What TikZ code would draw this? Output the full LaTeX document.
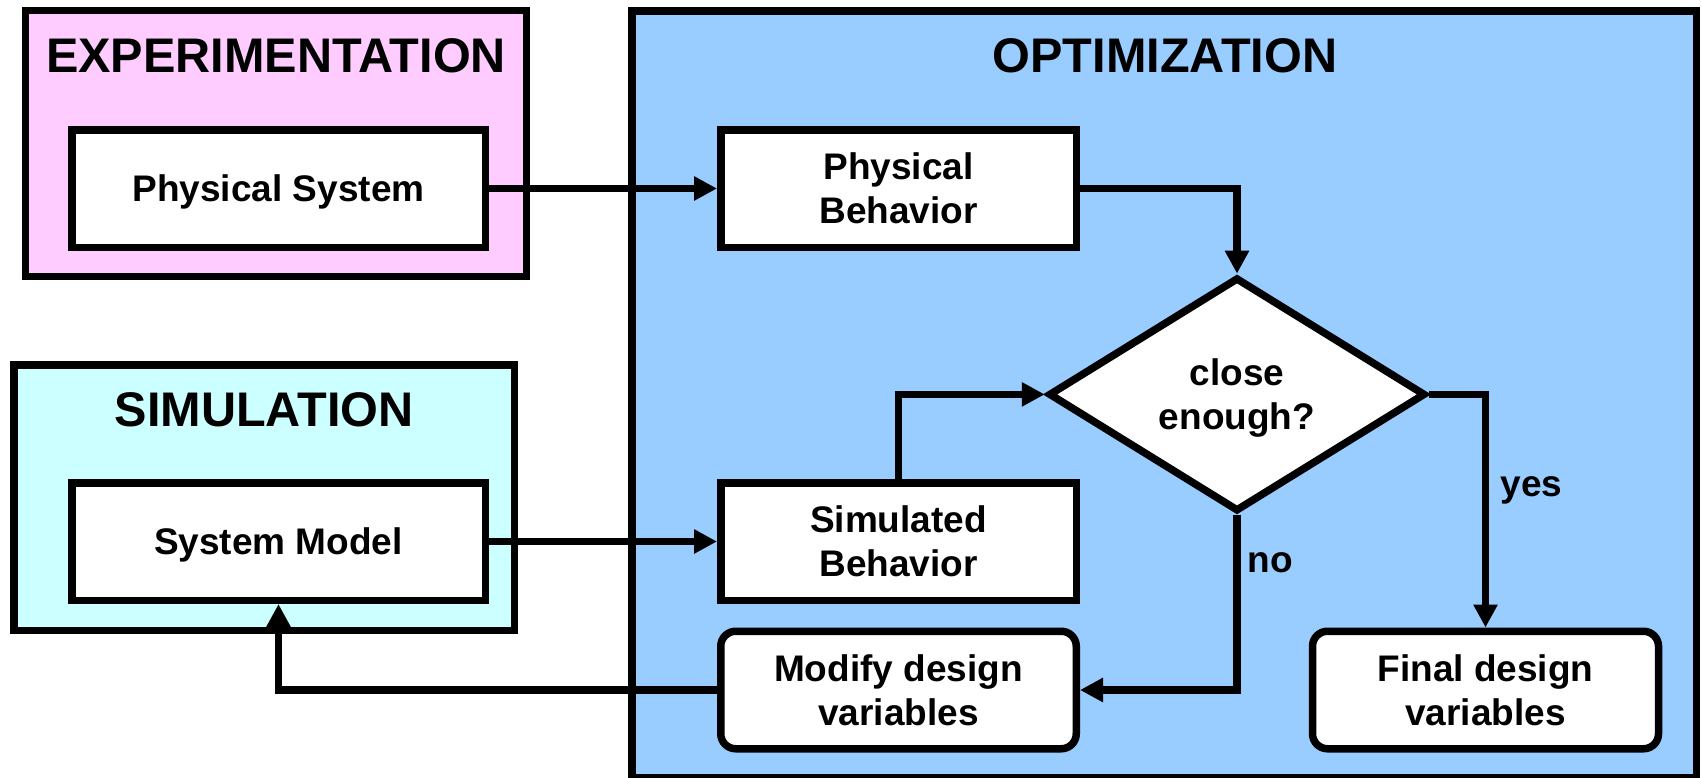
\documentclass[tikz,border=0pt]{standalone}
\usepackage{fontspec}
\setmainfont{Liberation Sans}
\usetikzlibrary{arrows.meta,shapes.geometric}
\definecolor{pinkfill}{RGB}{255,204,255}
\definecolor{cyanfill}{RGB}{204,255,255}
\definecolor{bluefill}{RGB}{153,204,255}
\newcommand\diagtitle{\fontsize{24.3pt}{28pt}\selectfont\bfseries}
\newcommand\diagbody{\fontsize{18.5pt}{22pt}\selectfont\bfseries}
\begin{document}
\begin{tikzpicture}[x=0.5pt,y=-0.5pt,line width=3.75pt,
  groupbox/.style={draw=black,line width=3.75pt,inner sep=0pt,outer sep=0pt},
  stepbox/.style={draw=black,fill=white,line width=3.75pt,inner sep=0pt,
    minimum width=177.75pt,minimum height=58.75pt,align=center,font=\diagbody},
  oneline/.style={text depth=0pt},
  roundbox/.style={stepbox,rounded corners=7.5pt},
  decision/.style={diamond,draw=black,fill=white,line width=3.75pt,inner sep=0pt,
    minimum width=188.5pt,minimum height=117pt,align=center,font=\diagbody,text depth=0pt},
  titletext/.style={anchor=base,font=\diagtitle,inner sep=0pt},
  labeltext/.style={anchor=base west,font=\diagbody,inner sep=0pt},
  arr/.style={draw=black,line width=3.6pt,-{Triangle[length=11.5pt,width=11.5pt]}}]
\useasboundingbox (0,0) rectangle (1702,777);
% group boxes
\node[groupbox,fill=pinkfill,minimum width=250.5pt,minimum height=133pt] (exp) at (276,143.5) {};
\node[groupbox,fill=cyanfill,minimum width=250.25pt,minimum height=132.75pt] (sim) at (264,497.5) {};
\node[groupbox,fill=bluefill,minimum width=532.25pt,minimum height=383.5pt] (opt) at (1164,394.4) {};
% titles
\node[titletext] (exptitle) at (276,72) {EXPERIMENTATION};
\node[titletext] (simtitle) at (264,426) {SIMULATION};
\node[titletext] (opttitle) at (1165,72) {OPTIMIZATION};
% boxes
\node[stepbox,oneline,minimum width=206.75pt] (physsys) at (278.5,188.5) {Physical System};
\node[stepbox,oneline,minimum width=206.75pt] (sysmodel) at (278.5,541.5) {System Model};
\node[stepbox] (physbeh) at (898.5,188.5) {Physical\\Behavior};
\node[stepbox] (simbeh) at (898.5,541.5) {Simulated\\Behavior};
\node[roundbox] (modify) at (898.5,690) {Modify design\\variables};
\node[roundbox,minimum width=173pt] (final) at (1485.5,690) {Final design\\variables};
\node[decision] (dia) at (1237,394.4) {close\\enough?};
% connectors
\draw[arr] (physsys.east) -- (physbeh.west);
\draw[arr] (sysmodel.east) -- (simbeh.west);
\draw[arr] (physbeh.east) -| (dia.north);
\draw[arr] (simbeh.north) |- (dia.west);
\draw[arr] (dia.east) -| (final.north);
\draw[arr] (dia.south) |- (modify.east);
\draw[arr] (modify.west) -| (sysmodel.south);
% labels
\node[labeltext] (yes) at (1497,496) {yes};
\node[labeltext] (no) at (1244,572.7) {no};
\end{tikzpicture}
\end{document}
